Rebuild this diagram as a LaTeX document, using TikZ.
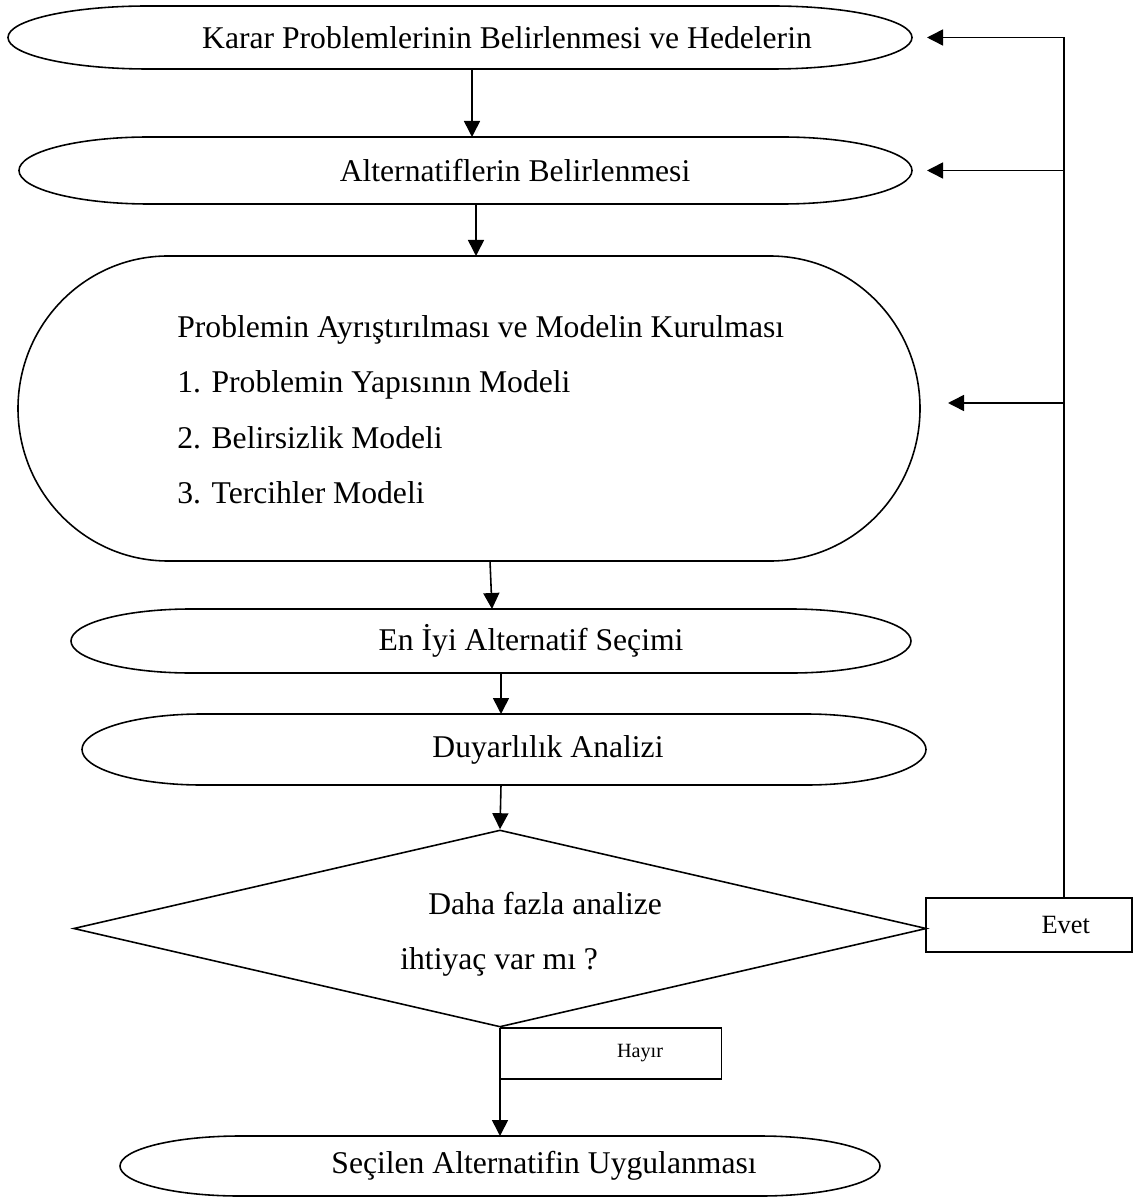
\documentclass[tikz,border=0pt]{standalone}
\usepackage{fontspec}
\setmainfont{Liberation Serif}
\usepackage{tikz}
\usetikzlibrary{arrows.meta,shapes.geometric}
\tikzstyle{term}=[inner sep=0pt, outer sep=0pt]
\tikzstyle{txt}=[font=\fontsize{18}{21}\selectfont, inner sep=0pt]
\tikzstyle{small txt}=[font=\fontsize{15}{18}\selectfont, inner sep=0pt]
\tikzstyle{line}=[draw, line width=0.9pt]
\tikzstyle{flow}=[line, -{Triangle[length=3.2mm,width=3.2mm]}]
\tikzstyle{box}=[line, rectangle, inner sep=0pt, outer sep=0pt]

\begin{document}
\begin{tikzpicture}[x=0.2mm, y=-0.2mm]
    \useasboundingbox (0,0) rectangle (1133,1200);

    % the rounded steps: name, centre, width, height, end radius
    \foreach \name/\pos/\w/\h/\r in {{karar/(460,37.5)/904/63/140}, {alt/(465.5,170.5)/893/67/130},
        {prob/(469,408.5)/902/305/150}, {eniyi/(491,641)/840/64/120}, {duy/(504,749.5)/844/71/120},
        {son/(500,1166)/760/60/120}}
    {
        \node[term, minimum width=\w*0.2mm, minimum height=\h*0.2mm] (\name) at \pos {};
        \draw[line] ([xshift=\r*0.2mm]\name.north west) -- ([xshift=-\r*0.2mm]\name.north east)
            arc[start angle=90, end angle=-90, x radius=\r*0.2mm, y radius=\h*0.1mm]
            -- ([xshift=\r*0.2mm]\name.south west)
            arc[start angle=270, end angle=90, x radius=\r*0.2mm, y radius=\h*0.1mm] -- cycle;
    }

    % texts of the steps
    \foreach \name/\dx/\txt in {karar/9.4/Karar Problemlerinin Belirlenmesi ve Hedelerin,
        alt/9.9/Alternatiflerin Belirlenmesi, eniyi/8/En İyi Alternatif Seçimi,
        duy/8.8/Duyarlılık Analizi, son/8.8/Seçilen Alternatifin Uygulanması}
        \node[txt] (\name-t) at ([xshift=\dx mm]\name) {\txt};

    \foreach \y/\n/\txt in {337/0/Problemin Ayrıştırılması ve Modelin Kurulması,
        392.5/1/1. Problemin Yapısının Modeli, 448/2/2. Belirsizlik Modeli, 503/3/3. Tercihler Modeli}
        \node[txt, anchor=base west] (model\n) at (177,\y) {\txt};

    % decision
    \node[diamond, line, inner sep=0pt, minimum width=853*0.2mm, minimum height=197*0.2mm] (soru) at (500,928.5) {};
    \node[txt, anchor=base west] (soru1) at (428,914) {Daha fazla analize};
    \node[txt, anchor=base west] (soru2) at (400,969) {ihtiyaç var mı ?};

    \node[box, minimum width=206*0.2mm, minimum height=54*0.2mm] (evet) at (1028.7,925) {};
    \node[small txt] (evet-t) at ([xshift=7.4mm]evet) {Evet};
    \node[box, minimum width=221*0.2mm, minimum height=51*0.2mm] (hayir) at (611,1053.5) {};
    \node[txt, font=\fontsize{11.5}{14}\selectfont] (hayir-t) at ([xshift=5.8mm]hayir) {Hayır};

    % main flow
    \path[flow] ([xshift=2.4mm]karar.south) -- ([xshift=1.3mm]alt.north);
    \path[flow] ([xshift=2.1mm]alt.south) -- ([xshift=1.4mm]prob.north);
    \path[flow] ([xshift=4.2mm]prob.south) -- ([xshift=0.2mm]eniyi.north);
    \path[flow] ([xshift=2mm]eniyi.south) -- ([xshift=-0.6mm]duy.north);
    \path[flow] ([xshift=-0.6mm]duy.south) -- (soru.north);
    \path[flow] (soru.south) -- (son.north);

    % back to the earlier steps
    \coordinate (geri) at ([xshift=7mm]evet.north);
    \path[line] (geri) -- (geri |- karar.east);
    \path[flow] (geri |- karar.east) -- ([xshift=3mm]karar.east);
    \path[flow] (geri |- alt.east) -- ([xshift=3mm]alt.east);
    \path[flow] ([yshift=1.1mm]geri |- prob.east) -- ([xshift=5.6mm,yshift=1.1mm]prob.east);
\end{tikzpicture}
\end{document}
